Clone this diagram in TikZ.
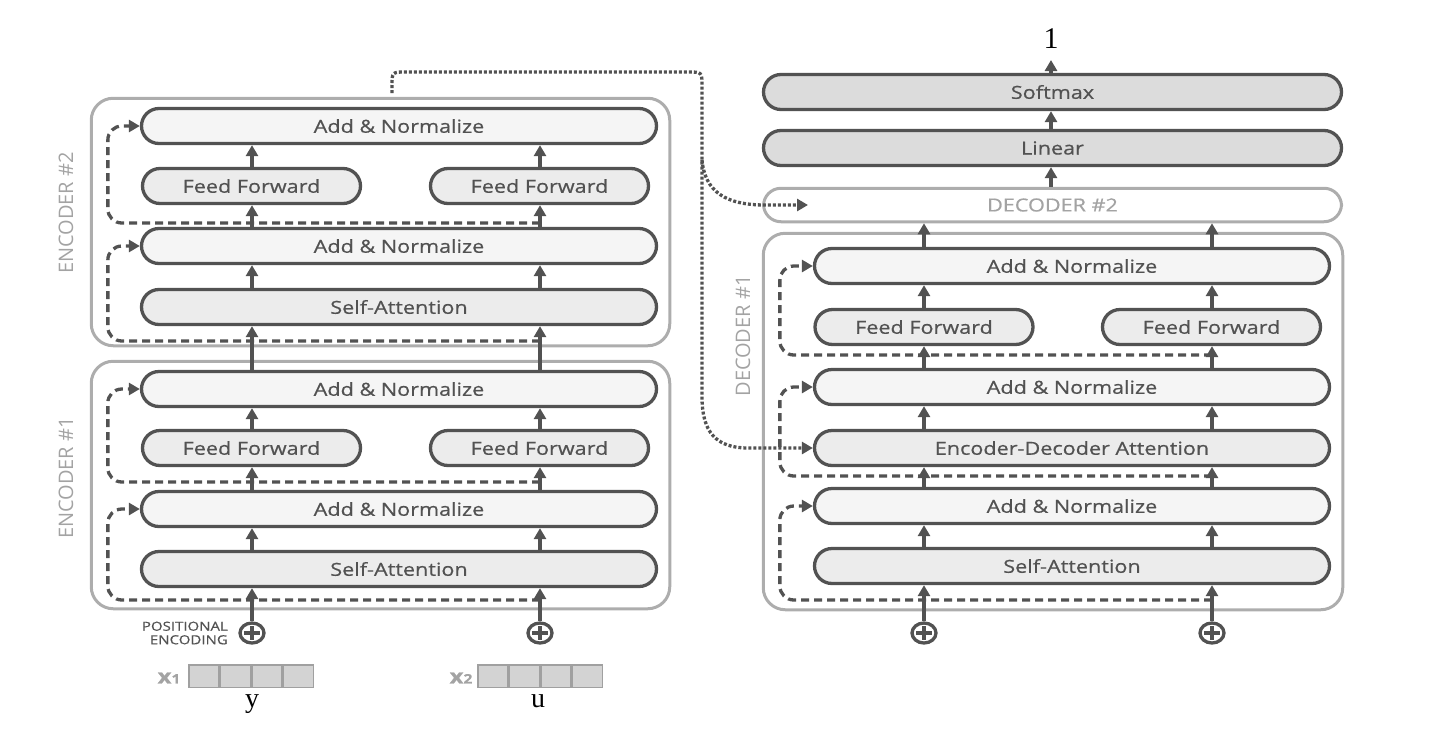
\documentclass[tikz,border=0pt]{standalone}
\usepackage{fontspec}
\setmainfont{Open Sans}[FakeStretch=1.2,FakeBold=0.6]
\newfontfamily\labfont{Open Sans}
\newfontfamily\numfont{Liberation Serif}
\usetikzlibrary{arrows.meta,calc,shapes.geometric}
\definecolor{dk}{HTML}{525252}
\definecolor{fa}{HTML}{F5F5F5}
\definecolor{fb}{HTML}{ECECEC}
\definecolor{fc}{HTML}{DCDCDC}
\definecolor{ob}{HTML}{ADADAD}
\definecolor{lt}{HTML}{A3A3A3}
\definecolor{cellf}{HTML}{D3D3D3}
\definecolor{cellb}{HTML}{A0A0A0}
\begin{document}
\begin{tikzpicture}[x=1pt,y=-1pt,
  box/.style={draw=dk, line width=3.3pt, rounded corners=17.5pt, minimum height=35pt,
    inner sep=0pt, text=dk, font=\fontsize{18}{20}\selectfont},
  wide/.style={box, minimum width=515pt},
  half/.style={box, minimum width=218pt},
  top/.style={box, minimum width=578pt, fill=fc},
  an/.style={fill=fa},
  op/.style={fill=fb},
  outer/.style={draw=ob, line width=3pt, rounded corners=22pt, inner sep=0pt},
  arr/.style={draw=dk, line width=3.3pt, -{Triangle[width=12pt,length=11pt]}},
  res/.style={arr, dash pattern=on 8pt off 5pt, rounded corners=14pt},
  dot/.style={draw=dk, line width=3.3pt, dash pattern=on 3pt off 2pt},
  doth/.style={dot, -{Triangle[width=12pt,length=11pt]}},
  plus/.style={ellipse, draw=dk, line width=3.3pt, minimum width=24pt, minimum height=20pt, inner sep=0pt},
  lab/.style={text=lt, font=\labfont\fontsize{20}{22}\selectfont, rotate=90, inner sep=0pt},
  cell/.style={draw=cellb, fill=cellf, line width=1.5pt, minimum width=30pt, minimum height=22.5pt, inner sep=0pt},
  xlab/.style={text=lt, font=\bfseries\fontsize{20}{20}\selectfont, inner sep=0pt},
  serif/.style={text=black, font=\numfont\fontsize{28}{30}\selectfont, inner sep=0pt, anchor=base},
]
\useasboundingbox (0,0) rectangle (1451,737);

% outer boxes
\node[outer, minimum width=578.5pt, minimum height=247.5pt] (enc2) at (380.5,222) {};
\node[outer, minimum width=578.5pt, minimum height=247.5pt] (enc1) at (380.5,485) {};
\node[outer, minimum width=579.5pt, minimum height=376.5pt] (dec1) at (1053,421.5) {};

% side labels
\node[lab] (le2) at (66,213) {ENCODER \#2};
\node[lab] (le1) at (66,478) {ENCODER \#1};
\node[lab] (ld1) at (743,336) {DECODER \#1};

% encoder 2
\node[wide,an] (e2an2) at (399,126) {Add \& Normalize};
\node[half,op] (e2ffl) at (251.5,186) {Feed Forward};
\node[half,op] (e2ffr) at (539.5,186) {Feed Forward};
\node[wide,an] (e2an1) at (399,246) {Add \& Normalize};
\node[wide,op] (e2sa) at (399,307) {Self-Attention};
% encoder 1
\node[wide,an] (e1an2) at (399,389) {Add \& Normalize};
\node[half,op] (e1ffl) at (251.5,448) {Feed Forward};
\node[half,op] (e1ffr) at (539.5,448) {Feed Forward};
\node[wide,an] (e1an1) at (399,509) {Add \& Normalize};
\node[wide,op] (e1sa) at (399,569) {Self-Attention};
% decoder 1
\node[wide,an] (dan3) at (1072,266) {Add \& Normalize};
\node[half,op] (dffl) at (924,327) {Feed Forward};
\node[half,op] (dffr) at (1211.5,327) {Feed Forward};
\node[wide,an] (dan2) at (1072,387) {Add \& Normalize};
\node[wide,op] (deda) at (1072,448) {Encoder-Decoder Attention};
\node[wide,an] (dan1) at (1072,506) {Add \& Normalize};
\node[wide,op] (dsa) at (1072,566) {Self-Attention};
% top stack
\node[top] (softmax) at (1052.5,92) {Softmax};
\node[top] (linear) at (1052.5,148) {Linear};
\node[box, minimum width=578pt, minimum height=33.5pt, draw=ob, line width=3pt, fill=white, text=lt] (dec2) at (1052.5,205) {DECODER \#2};
\node[serif] (out) at (1051,48) {\fontsize{30}{32}\selectfont 1};
\coordinate (outtip) at (1051,60);

% positional encoding circles
\foreach \n/\x in {pe1/252, pe2/540, pd1/924, pd2/1212}{
  \node[plus] (\n) at (\x,633) {};
  \draw[dk, line width=3.3pt] ($(\n)+(-8,0)$) -- ($(\n)+(8,0)$);
  \draw[dk, line width=3.3pt] ($(\n)+(0,-7)$) -- ($(\n)+(0,7)$);
}
\node[anchor=east, align=right, text=dk, inner sep=0pt,
  font=\fontsize{12.5}{13.5}\selectfont] (posenc) at (228,633) {POSITIONAL\\ENCODING};

% input vectors
\foreach \i in {0,1,2,3}{
  \node[cell] (va\i) at (203.75+31.5*\i,676) {};
  \node[cell] (vb\i) at (492.75+31.5*\i,676) {};
}
\node[xlab] (x1) at (169,678) {x{\fontsize{13}{13}\selectfont 1}};
\node[xlab] (x2) at (461,678) {x{\fontsize{13}{13}\selectfont 2}};
\node[serif] (yv) at (252,707) {y};
\node[serif] (uv) at (538,707) {u};

% residual dashed connections
\coordinate (r1) at (540,341);  \coordinate (r2) at (540,223);
\coordinate (r3) at (540,600);  \coordinate (r4) at (540,482);
\coordinate (r5) at (1212,600); \coordinate (r6) at (1212,476);
\coordinate (r7) at (1212,355);
\draw[res] (r1) -| ($(e2an1.west)+(-32,0)$) -- (e2an1.west);
\draw[res] (r2) -| ($(e2an2.west)+(-32,0)$) -- (e2an2.west);
\draw[res] (r3) -| ($(e1an1.west)+(-32,0)$) -- (e1an1.west);
\draw[res] (r4) -| ($(e1an2.west)+(-32,0)$) -- (e1an2.west);
\draw[res] (r5) -| ($(dan1.west)+(-33,0)$) -- (dan1.west);
\draw[res] (r6) -| ($(dan2.west)+(-33,0)$) -- (dan2.west);
\draw[res] (r7) -| ($(dan3.west)+(-33,0)$) -- (dan3.west);

% dotted encoder output to decoders
\coordinate (ds) at (392,93);
\coordinate (dbr) at (702,160);
\coordinate (d2tip) at ($(dec2.west)+(46,0)$);
\draw[doth] (ds) -- (392,86) .. controls (392,72) .. (406,72) -- (688,72)
  .. controls (702,72) .. (702,86) -- (702,397)
  .. controls (702,432) and (716,448) .. (748,448) -- (deda.west);
\draw[doth] (dbr) .. controls (705,192) and (726,205) .. (765,205) -- (d2tip);

% vertical arrows encoder
\foreach \c in {pe1,pe2}{
  \draw[arr] (\c.north) -- (e1sa.south -| \c);
  \draw[arr] (e1sa.north -| \c) -- (e1an1.south -| \c);
  \draw[arr] (e1an1.north -| \c) -- (e1ffl.south -| \c);
  \draw[arr] (e1ffl.north -| \c) -- (e1an2.south -| \c);
  \draw[arr] (e1an2.north -| \c) -- (e2sa.south -| \c);
  \draw[arr] (e2sa.north -| \c) -- (e2an1.south -| \c);
  \draw[arr] (e2an1.north -| \c) -- (e2ffl.south -| \c);
  \draw[arr] (e2ffl.north -| \c) -- (e2an2.south -| \c);
}
% vertical arrows decoder
\foreach \c in {pd1,pd2}{
  \draw[arr] (\c.north) -- (dsa.south -| \c);
  \draw[arr] (dsa.north -| \c) -- (dan1.south -| \c);
  \draw[arr] (dan1.north -| \c) -- (deda.south -| \c);
  \draw[arr] (deda.north -| \c) -- (dan2.south -| \c);
  \draw[arr] (dan2.north -| \c) -- (dffl.south -| \c);
  \draw[arr] (dffl.north -| \c) -- (dan3.south -| \c);
  \draw[arr] (dan3.north -| \c) -- (dec2.south -| \c);
}
\draw[arr] (dec2.north -| outtip) -- (linear.south -| outtip);
\draw[arr] (linear.north -| outtip) -- (softmax.south -| outtip);
\draw[arr] (softmax.north -| outtip) -- (outtip);
\end{tikzpicture}
\end{document}
